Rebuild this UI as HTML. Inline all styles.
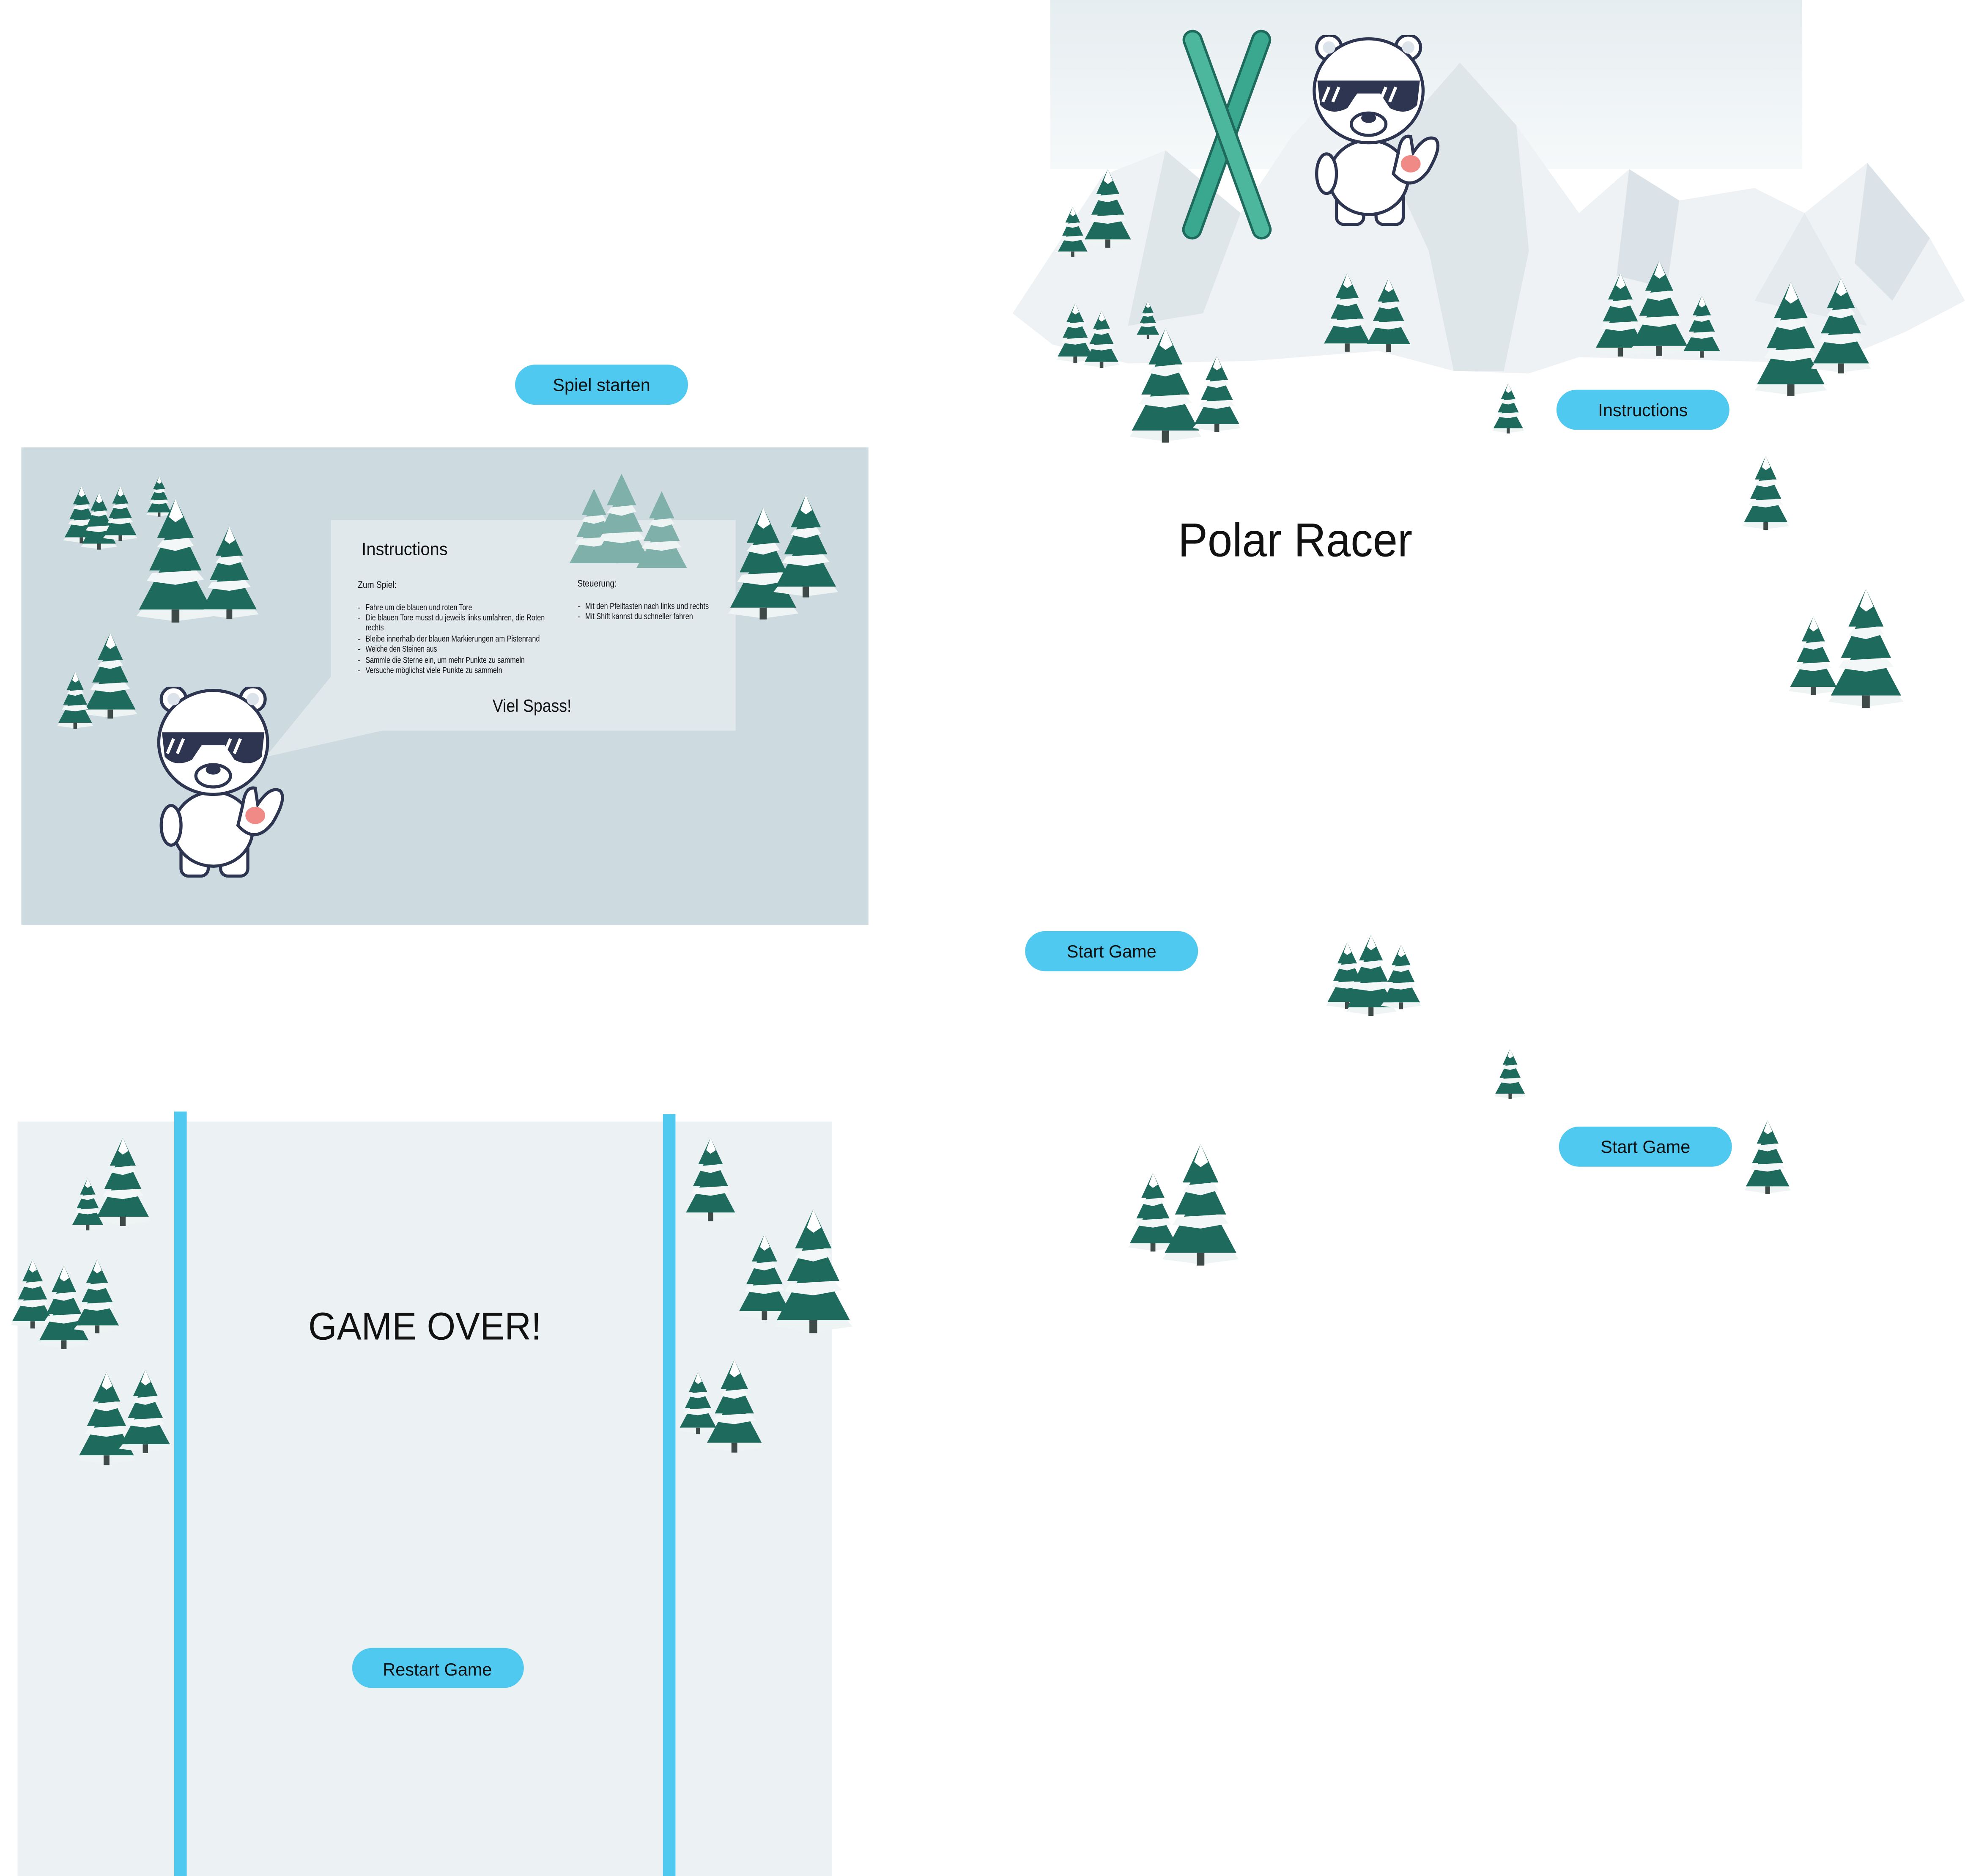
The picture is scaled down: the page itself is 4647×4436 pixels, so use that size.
<!DOCTYPE html>
<html><head><meta charset="utf-8"><style>
html,body{margin:0;padding:0;background:#fff;}
svg{display:block;}
text{font-family:"Liberation Sans Narrow","Liberation Sans",sans-serif;}
</style></head><body>
<svg width="4647" height="4436" viewBox="0 0 1568 1497" preserveAspectRatio="none" xmlns="http://www.w3.org/2000/svg">
<defs>
<symbol id="tree" viewBox="0 0 60 100">
  <polygon points="30,0 44,30 38,30 50,55 42,55 58,85 2,85 18,55 10,55 22,30 16,30" fill="#1e6b5e"/>
  <polygon points="30,0 36,14 30,18 25,14" fill="#fff"/>
  <polygon points="20,32 40,30 44,36 30,40 16,37" fill="#f4f7f7"/>
  <polygon points="12,57 46,55 52,62 30,66 8,63" fill="#f4f7f7"/>
  <polygon points="4,85 56,85 60,90 30,94 0,90" fill="#eef3f3"/>
  <rect x="27" y="85" width="6" height="10" fill="#3d4a48"/>
</symbol>
<symbol id="ftree" viewBox="0 0 60 100">
  <polygon points="30,0 44,30 38,30 50,55 42,55 58,85 2,85 18,55 10,55 22,30 16,30" fill="#7fb0aa"/>
  <polygon points="20,32 40,30 44,36 30,40 16,37" fill="#eef3f4"/>
  <polygon points="12,57 46,55 52,62 30,66 8,63" fill="#eef3f4"/>
</symbol>
<symbol id="bear" viewBox="0 0 110 160">
  <g stroke="#2d3550" stroke-width="2.5">
    <rect x="20" y="125" width="22" height="28" rx="6" fill="#fff"/>
    <rect x="52" y="125" width="22" height="28" rx="6" fill="#fff"/>
    <ellipse cx="46" cy="115" rx="32" ry="30" fill="#fff"/>
    <ellipse cx="12" cy="112" rx="8" ry="16" fill="#fff"/>
    <circle cx="14" cy="10" r="10" fill="#fff"/>
    <circle cx="78" cy="10" r="10" fill="#fff"/>
    <ellipse cx="46" cy="45" rx="44" ry="42" fill="#fff"/>
    <path d="M6,38 L86,38 L84,56 Q76,64 64,58 L56,46 L36,46 L28,58 Q16,64 8,56 Z" fill="#2d3550"/>
    <ellipse cx="46" cy="72" rx="14" ry="9" fill="#fff"/>
    <path d="M70,95 Q72,80 80,82 L82,95 Q92,80 100,84 Q106,90 94,110 Q80,128 66,112 Z" fill="#fff"/>
    <ellipse cx="80" cy="104" rx="8" ry="7" fill="#f08a87" stroke="none"/>
  </g>
  <ellipse cx="46" cy="67" rx="6" ry="4" fill="#2d3550"/>
  <path d="M14,42 l-5,12 M22,42 l-5,12 M60,42 l-5,12 M68,42 l-5,12" stroke="#fff" stroke-width="2.5"/>
  <circle cx="14" cy="10" r="5" fill="#dde3ea"/>
  <circle cx="78" cy="10" r="5" fill="#dde3ea"/>
</symbol>
<linearGradient id="sky" x1="0" y1="0" x2="0" y2="1"><stop offset="0" stop-color="#e6edf0"/><stop offset="1" stop-color="#f6f9fa"/></linearGradient>
</defs>

<g>
<rect x="17" y="357" width="676" height="381" fill="#cddbe1"/>
<polygon points="264,415 587,415 587,583 305,583 212,604 264,540" fill="#e0e8ec"/>
<g>
<use href="#tree" x="48" y="388" width="34" height="48"/>
<use href="#tree" x="62" y="393" width="34" height="48"/>
<use href="#tree" x="80" y="388" width="32" height="46"/>
<use href="#tree" x="112" y="380" width="30" height="34"/>
<use href="#tree" x="100" y="398" width="80" height="104"/>
<use href="#tree" x="158" y="420" width="50" height="78"/>
<use href="#tree" x="62" y="505" width="52" height="72"/>
<use href="#tree" x="40" y="536" width="40" height="48"/>
<use href="#ftree" x="444" y="390" width="60" height="70"/>
<use href="#ftree" x="470" y="378" width="52" height="84"/>
<use href="#ftree" x="500" y="392" width="56" height="72"/>
<use href="#tree" x="574" y="405" width="70" height="94"/>
<use href="#tree" x="612" y="395" width="62" height="86"/>
</g>
<use href="#bear" x="124" y="548" width="110" height="158"/>
<text x="288.6" y="443" font-size="14" fill="#111" textLength="68.6" lengthAdjust="spacingAndGlyphs">Instructions</text>
<g font-size="7" fill="#111">
<text x="285.5" y="469" font-size="7.5" textLength="31" lengthAdjust="spacingAndGlyphs">Zum Spiel:</text>
<text x="285.5" y="487">-</text><text x="291.7" y="487" textLength="85" lengthAdjust="spacingAndGlyphs">Fahre um die blauen und roten Tore</text>
<text x="285.5" y="495">-</text><text x="291.7" y="495" textLength="143" lengthAdjust="spacingAndGlyphs">Die blauen Tore musst du jeweils links umfahren, die Roten</text>
<text x="291.7" y="503" textLength="14.5" lengthAdjust="spacingAndGlyphs">rechts</text>
<text x="285.5" y="512">-</text><text x="291.7" y="512" textLength="139" lengthAdjust="spacingAndGlyphs">Bleibe innerhalb der blauen Markierungen am Pistenrand</text>
<text x="285.5" y="520">-</text><text x="291.7" y="520" textLength="57" lengthAdjust="spacingAndGlyphs">Weiche den Steinen aus</text>
<text x="285.5" y="529">-</text><text x="291.7" y="529" textLength="127" lengthAdjust="spacingAndGlyphs">Sammle die Sterne ein, um mehr Punkte zu sammeln</text>
<text x="285.5" y="537">-</text><text x="291.7" y="537" textLength="109" lengthAdjust="spacingAndGlyphs">Versuche möglichst viele Punkte zu sammeln</text>
</g>
<g font-size="7" fill="#111">
<text x="460.7" y="468" font-size="7.5" textLength="31.4" lengthAdjust="spacingAndGlyphs">Steuerung:</text>
<text x="461" y="486">-</text><text x="467" y="486" textLength="98.6" lengthAdjust="spacingAndGlyphs">Mit den Pfeiltasten nach links und rechts</text>
<text x="461" y="494">-</text><text x="467" y="494" textLength="86" lengthAdjust="spacingAndGlyphs">Mit Shift kannst du schneller fahren</text>
</g>
<text x="393" y="568" font-size="14" fill="#111" textLength="63" lengthAdjust="spacingAndGlyphs">Viel Spass!</text>
</g>

<g>
<rect x="411" y="291" width="138" height="32" rx="16" fill="#4fc9ef"/>
<text x="480" y="312" font-size="14" text-anchor="middle" fill="#111">Spiel starten</text>
</g>

<g>
<rect x="14" y="895" width="650" height="602" fill="#ecf2f4"/>
<rect x="139" y="887" width="10" height="610" fill="#4fc9ef"/>
<rect x="529" y="889" width="10" height="608" fill="#4fc9ef"/>
<g>
<use href="#tree" x="72" y="908" width="52" height="74"/>
<use href="#tree" x="52" y="940" width="36" height="44"/>
<use href="#tree" x="5" y="1005" width="42" height="58"/>
<use href="#tree" x="25" y="1010" width="52" height="70"/>
<use href="#tree" x="55" y="1005" width="45" height="62"/>
<use href="#tree" x="55" y="1095" width="60" height="78"/>
<use href="#tree" x="92" y="1093" width="48" height="70"/>
<use href="#tree" x="537" y="908" width="60" height="70"/>
<use href="#tree" x="585" y="985" width="50" height="72"/>
<use href="#tree" x="605" y="965" width="88" height="104"/>
<use href="#tree" x="536" y="1095" width="42" height="52"/>
<use href="#tree" x="552" y="1085" width="68" height="78"/>
</g>
<text x="246" y="1069" font-size="31" fill="#111" font-family="Liberation Sans,sans-serif" textLength="186" lengthAdjust="spacingAndGlyphs">GAME OVER!</text>
</g>
<g>
<rect x="281" y="1315" width="137" height="32" rx="16" fill="#4fc9ef"/>
<text x="349" y="1337" font-size="14" text-anchor="middle" fill="#111">Restart Game</text>
</g>

<g>
<rect x="838" y="0" width="600" height="135" fill="url(#sky)"/>
<g>
<polygon points="808,250 880,140 930,120 990,170 1030,110 1075,60 1130,90 1165,50 1210,100 1260,170 1300,135 1340,160 1400,150 1440,170 1490,130 1540,190 1568,240 1520,265 1460,290 1260,285 1220,298 1160,296 1100,280 1000,288 900,290 840,275" fill="#eef2f4"/>
<polygon points="1075,60 1130,90 1165,50 1210,100 1220,200 1200,296 1160,296 1140,200" fill="#dfe6ea"/>
<polygon points="930,120 990,170 960,250 900,260" fill="#dfe6ea"/>
<polygon points="1300,135 1340,160 1330,230 1290,220" fill="#dbe3e8"/>
<polygon points="1490,130 1540,190 1510,240 1480,210" fill="#dbe3e8"/>
<polygon points="1440,170 1490,260 1400,240" fill="#e4eaee"/>
</g>
<g>
<rect x="972" y="20" width="14" height="175" rx="7" fill="#3aa88e" stroke="#1e6b5e" stroke-width="2" transform="rotate(20 979 107)"/>
<rect x="972" y="20" width="14" height="175" rx="7" fill="#4cb79d" stroke="#1e6b5e" stroke-width="2" transform="rotate(-20 979 107)"/>
</g>
<use href="#bear" x="1045" y="28" width="112" height="158"/>
<g>
<use href="#tree" x="858" y="135" width="52" height="66"/>
<use href="#tree" x="838" y="165" width="36" height="42"/>
<use href="#tree" x="838" y="242" width="40" height="50"/>
<use href="#tree" x="860" y="248" width="38" height="48"/>
<use href="#tree" x="900" y="240" width="32" height="32"/>
<use href="#tree" x="890" y="262" width="80" height="96"/>
<use href="#tree" x="950" y="284" width="42" height="64"/>
<use href="#tree" x="1050" y="218" width="50" height="66"/>
<use href="#tree" x="1082" y="222" width="52" height="62"/>
<use href="#tree" x="1185" y="306" width="37" height="42"/>
<use href="#tree" x="1270" y="218" width="46" height="70"/>
<use href="#tree" x="1300" y="208" width="48" height="80"/>
<use href="#tree" x="1338" y="236" width="40" height="52"/>
<use href="#tree" x="1393" y="225" width="72" height="96"/>
<use href="#tree" x="1440" y="222" width="58" height="80"/>
<use href="#tree" x="1383" y="364" width="52" height="62"/>
<use href="#tree" x="1423" y="492" width="48" height="66"/>
<use href="#tree" x="1450" y="470" width="78" height="100"/>
<use href="#tree" x="1050" y="752" width="50" height="56"/>
<use href="#tree" x="1068" y="746" width="52" height="68"/>
<use href="#tree" x="1098" y="754" width="40" height="54"/>
<use href="#tree" x="1188" y="837" width="34" height="42"/>
<use href="#tree" x="1384" y="894" width="53" height="62"/>
<use href="#tree" x="895" y="936" width="50" height="66"/>
<use href="#tree" x="918" y="913" width="80" height="102"/>
</g>
<text x="940" y="444" font-size="38" fill="#111" font-family="Liberation Sans,sans-serif" textLength="187" lengthAdjust="spacingAndGlyphs">Polar Racer</text>
</g>

<g>
<rect x="1242" y="311" width="138" height="32" rx="16" fill="#4fc9ef"/>
<text x="1311" y="332" font-size="14" text-anchor="middle" fill="#111">Instructions</text>
</g>
<g>
<rect x="818" y="743" width="138" height="32" rx="16" fill="#4fc9ef"/>
<text x="887" y="764" font-size="14" text-anchor="middle" fill="#111">Start Game</text>
</g>
<g>
<rect x="1244" y="899" width="138" height="32" rx="16" fill="#4fc9ef"/>
<text x="1313" y="920" font-size="14" text-anchor="middle" fill="#111">Start Game</text>
</g>
</svg>
</body></html>
